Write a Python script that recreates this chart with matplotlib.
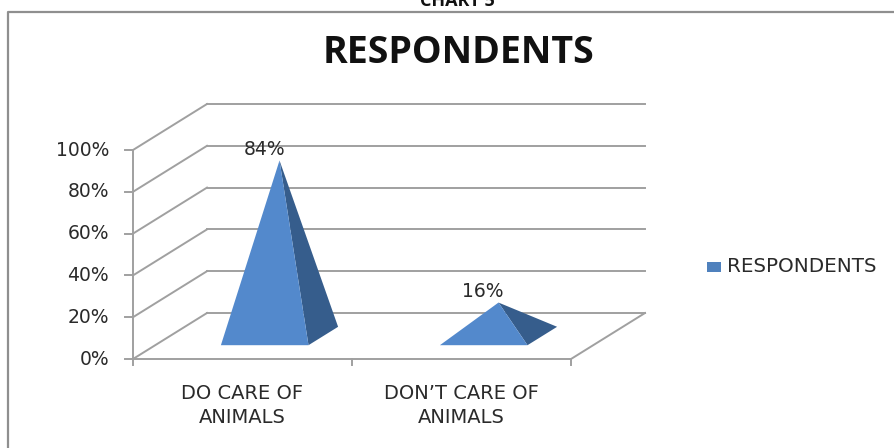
import matplotlib
matplotlib.use('Agg')
import matplotlib.pyplot as plt
from matplotlib.patches import Polygon, Rectangle

categories = ['DO CARE OF\nANIMALS', 'DON\u2019T CARE OF\nANIMALS']
values = [84, 16]
value_labels = ['84%', '16%']
y_ticks = [0, 20, 40, 60, 80, 100]
y_tick_labels = ['0%', '20%', '40%', '60%', '80%', '100%']
series_name = 'RESPONDENTS'

W, H = 894, 448
GRID = '#a0a0a0'
FRONT = '#5389cc'
SIDE = '#365d8c'
TEXT = '#2a2a2a'

# plot area in pixels, axes fills the whole figure
x0_px, x2_px = 133, 571
y0_px, y100_px = 359, 150
px_x = (x2_px - x0_px) / 2
px_y = (y0_px - y100_px) / 100
depth_x = 74 / px_x
depth_y = 46 / px_y

fig = plt.figure(figsize=(W / 100, H / 100), dpi=100)
ax = fig.add_axes([0, 0, 1, 1])
ax.set_xlim(-x0_px / px_x, (W - x0_px) / px_x)
ax.set_ylim(-(H - y0_px) / px_y, y0_px / px_y)
ax.axis('off')


def sh(x, y, d=0.0):
    return x + d * depth_x, y + d * depth_y


# chart frame, only top and left are visible
ax.plot([7.5 / W, 7.5 / W, 1], [0, 1 - 12.5 / H, 1 - 12.5 / H], transform=ax.transAxes,
        color='#8f8f8f', lw=1.6)

# floor and side wall
for t, lab in zip(y_ticks, y_tick_labels):
    ax.plot(*zip(sh(0, t), sh(0, t, 1)), color=GRID, lw=1.4)
    ax.plot(*zip(sh(0, t, 1), sh(2, t, 1)), color=GRID, lw=1.4)
    ax.plot([-0.035, 0], [t, t], color=GRID, lw=1.4)
    ax.text(-0.11, t, lab, ha='right', va='center', fontsize=13.5, color=TEXT,
            family='DejaVu Sans')
ax.plot([0, 0], [0, 100], color=GRID, lw=1.4)
ax.plot([0, 2], [0, 0], color=GRID, lw=1.4)
ax.plot(*zip(sh(2, 0), sh(2, 0, 1)), color=GRID, lw=1.4)
for c in range(3):
    ax.plot([c, c], [0, -3], color=GRID, lw=1.4)

# pyramids, base 0.4 wide and from 0.3 to 0.7 in depth
for i, v in enumerate(values):
    cx = i + 0.5
    fl = sh(cx - 0.2, 0, 0.3)
    fr = sh(cx + 0.2, 0, 0.3)
    br = sh(cx + 0.2, 0, 0.7)
    apex = sh(cx, v, 0.5)
    ax.add_patch(Polygon([fr, br, apex], closed=True, fc=SIDE, ec='none', zorder=3))
    ax.add_patch(Polygon([fl, fr, apex], closed=True, fc=FRONT, ec='none', zorder=4))
    ax.text(apex[0] - 0.07, apex[1] + 5.2, value_labels[i], ha='center', va='center',
            fontsize=13.5, color=TEXT, family='DejaVu Sans', zorder=5)
    ax.text(i + 0.5, -22.2, categories[i], ha='center', va='center', fontsize=14,
            color=TEXT, family='DejaVu Sans', linespacing=1.35)

# legend
ax.add_patch(Rectangle((707 / W, 1 - 272 / H), 14 / W, 10 / H, transform=ax.transAxes,
                       fc='#4f81bd', ec='none'))
fig.text(727 / W, 1 - 266 / H, series_name, ha='left', va='center', fontsize=14.3,
         color=TEXT, family='DejaVu Sans')

fig.text(459 / W, 1 - 53 / H, series_name, ha='center', va='center', fontsize=27,
         fontweight='bold', color='#111111', family='Open Sans')
fig.text(457 / W, 1 - 5.5 / H, 'CHART 5', ha='center', va='baseline', fontsize=13,
         fontweight='bold', color='#111111', family='Open Sans')

fig.savefig('out.png', dpi=100)
